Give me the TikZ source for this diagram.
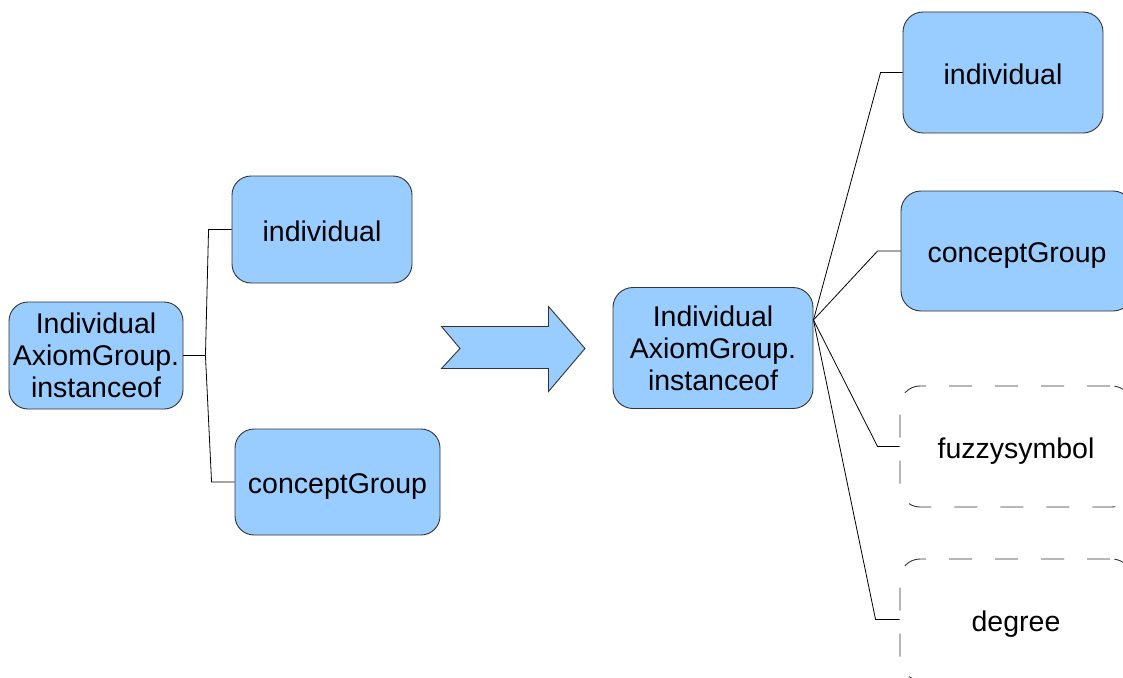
\documentclass[tikz,border=0pt]{standalone}
\usepackage{fontspec}
\setmainfont{Liberation Sans}
\definecolor{boxblue}{HTML}{99CCFF}
\definecolor{edgegray}{HTML}{333333}
\tikzset{
  box/.style={draw=edgegray, line width=0.9pt, fill=boxblue, rounded corners=19pt,
    align=center, inner sep=0pt, font=\fontsize{28.5}{32}\selectfont},
  dbox/.style={draw=edgegray, line width=0.9pt, rounded corners=20pt,
    dash pattern=on 23pt off 23pt, dash phase=-2pt,
    align=center, inner sep=0pt, font=\fontsize{28.5}{32}\selectfont},
  oneline/.style={text height=23pt, text depth=0pt},
  conn/.style={draw=black, line width=0.8pt},
}
\begin{document}
\begin{tikzpicture}[x=1pt,y=-1pt]
\useasboundingbox (0,0) rectangle (1123,677);
% left tree
\node[box, minimum width=174pt, minimum height=107pt] (lroot) at (96,355.5) {Individual\\AxiomGroup.\\instanceof};
\node[box, oneline, minimum width=180pt, minimum height=107pt] (lind) at (322,229.5) {individual};
\node[box, oneline, minimum width=205pt, minimum height=106pt] (lcg) at (337.5,482) {conceptGroup};
\coordinate (lhub) at ([xshift=22pt]lroot.east);
\draw[conn] (lroot.east) -- (lhub);
\draw[conn] (lhub) -- ([xshift=-23pt]lind.west) -- (lind.west);
\draw[conn] (lhub) -- ([xshift=-23pt]lcg.west) -- (lcg.west);
% big arrow
\draw[draw=edgegray, line width=0.9pt, fill=boxblue]
  (441.5,326.5) -- (548.5,326.5) -- (548.5,306.5) -- (585,348.5) -- (548.5,391.5)
  -- (548.5,368.5) -- (441.5,368.5) -- (460,348.5) -- cycle;
% right tree
\node[box, minimum width=200pt, minimum height=121pt, rounded corners=20pt] (rroot) at (713,348) {Individual\\AxiomGroup.\\instanceof};
\node[box, oneline, minimum width=200pt, minimum height=121pt, rounded corners=20pt] (rind) at (1003,72.5) {individual};
\node[box, oneline, minimum width=232pt, minimum height=120pt, rounded corners=20pt] (rcg) at (1017,251) {conceptGroup};
\node[dbox, oneline, minimum width=232pt, minimum height=121pt] (fuzzy) at (1016,446.5) {fuzzysymbol};
\node[dbox, oneline, minimum width=232pt, minimum height=121pt] (deg) at (1016,619.5) {degree};
\coordinate (rhub) at ([yshift=28pt]rroot.east);
\draw[conn] (rhub) -- ([xshift=-22pt]rind.west) -- (rind.west);
\draw[conn] (rhub) -- ([xshift=-23pt]rcg.west) -- (rcg.west);
\draw[conn] (rhub) -- ([xshift=-22pt]fuzzy.west) -- (fuzzy.west);
\draw[conn] (rhub) -- ([xshift=-24pt]deg.west) -- (deg.west);
\end{tikzpicture}
\end{document}
